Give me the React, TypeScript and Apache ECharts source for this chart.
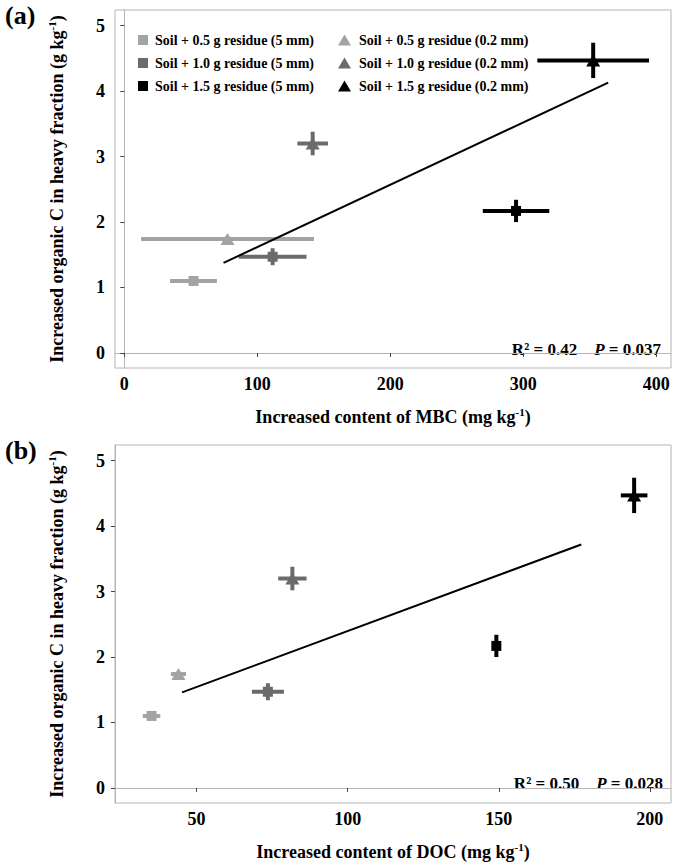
import React, { useEffect, useRef } from "react";
import * as echarts from "echarts";

const FONT = '"Liberation Serif", "Times New Roman", serif';

const groupNames = [
  "Soil + 0.5 g residue (5 mm)",
  "Soil + 0.5 g residue (0.2 mm)",
  "Soil + 1.0 g residue (5 mm)",
  "Soil + 1.0 g residue (0.2 mm)",
  "Soil + 1.5 g residue (5 mm)",
  "Soil + 1.5 g residue (0.2 mm)",
];
const groupSymbols = ["rect", "triangle", "rect", "triangle", "rect", "triangle"];
const groupColors = ["#a3a3a3", "#a3a3a3", "#6b6b6b", "#6b6b6b", "#000000", "#000000"];

// Increased organic C in heavy fraction (g/kg), shared by both panels
const heavyC = [1.1, 1.74, 1.47, 3.2, 2.17, 4.47];
const heavyCErr = [0.04, 0.04, 0.13, 0.18, 0.17, 0.27];

// Panel (a): MBC
const mbc = [52, 77.6, 111.5, 141.6, 294.5, 352.5];
const mbcErr = [17.6, 65, 25.5, 11.5, 25, 42];
const fitMBC = [
  [74.6, 1.376],
  [363.8, 4.13],
];

// Panel (b): DOC
const doc = [35.1, 44.0, 73.6, 81.7, 149.2, 194.8];
const docErr = [2.9, 2.5, 5.3, 4.7, 1.0, 4.4];
const fitDOC = [
  [45.2, 1.46],
  [177.3, 3.72],
];

const xTicksA = [0, 100, 200, 300, 400];
const xTicksB = [50, 100, 150, 200];
const yTicks = [0, 1, 2, 3, 4, 5];

export default function App() {
  const ref = useRef<HTMLDivElement>(null);
  useEffect(() => {
    document.body.style.margin = "0";
    const chart = echarts.init(ref.current!, null, { renderer: "svg" });

    const labelStyle = { fontFamily: FONT, fontWeight: "bold" as const, fontSize: 18, color: "#000" };
    const nameRich = {
      t: { fontFamily: FONT, fontWeight: "bold" as const, fontSize: 18, color: "#000", lineHeight: 22 },
      s: { fontFamily: FONT, fontWeight: "bold" as const, fontSize: 11, color: "#000", verticalAlign: "top" as const, lineHeight: 22 },
    };

    const xAxisBase = (idx: number, min: number, max: number, ticks: number[], title: string) => ({
      type: "value",
      gridIndex: idx,
      min,
      max,
      name: `{t|${title} (mg kg}{s|-1}{t|)}`,
      nameLocation: "middle",
      nameGap: 38,
      nameTextStyle: { rich: nameRich },
      axisLine: { show: true, lineStyle: { color: "#b5b5b5", width: 1 } },
      axisTick: { show: true, length: 4, lineStyle: { color: "#444" }, customValues: ticks },
      axisLabel: { ...labelStyle, margin: 7, customValues: ticks },
      splitLine: { show: false },
    });
    const yAxisBase = (idx: number) => ({
      type: "value",
      gridIndex: idx,
      min: -0.23,
      max: 5.24,
      name: "{t|Increased organic C in heavy fraction (g kg}{s|-1}{t|)}",
      nameLocation: "middle",
      nameGap: 47,
      nameRotate: 90,
      nameTextStyle: { rich: nameRich },
      axisLine: { show: true, lineStyle: { color: "#b5b5b5", width: 1 } },
      axisTick: { show: true, length: 4, lineStyle: { color: "#444" }, customValues: yTicks },
      axisLabel: { ...labelStyle, margin: 10, customValues: yTicks },
      splitLine: { show: false },
    });

    const errRender = (params: any, api: any) => {
      const x = api.value(0);
      const y = api.value(1);
      const xe = api.value(2);
      const ye = api.value(3);
      const c = groupColors[api.value(4)];
      const l = api.coord([x - xe, y]);
      const r = api.coord([x + xe, y]);
      const t = api.coord([x, y + ye]);
      const b = api.coord([x, y - ye]);
      return {
        type: "group",
        children: [
          { type: "line", shape: { x1: l[0], y1: l[1], x2: r[0], y2: r[1] }, style: { stroke: c, lineWidth: 4 } },
          { type: "line", shape: { x1: t[0], y1: t[1], x2: b[0], y2: b[1] }, style: { stroke: c, lineWidth: 4 } },
        ],
      };
    };

    const panelSeries = (idx: number, xs: number[], xErr: number[], fit: number[][]) => {
      const s: any[] = [];
      s.push({
        type: "custom",
        xAxisIndex: idx,
        yAxisIndex: idx,
        renderItem: errRender,
        silent: true,
        z: 1,
        encode: { x: 0, y: 1 },
        data: xs.map((x, i) => [x, heavyC[i], xErr[i], heavyCErr[i], i]),
      });
      groupNames.forEach((n, i) => {
        s.push({
          type: "scatter",
          name: n,
          xAxisIndex: idx,
          yAxisIndex: idx,
          symbol: groupSymbols[i],
          symbolSize: groupSymbols[i] === "rect" ? 10 : [14, 12],
          itemStyle: { color: groupColors[i], opacity: 1 },
          z: 3,
          data: [[xs[i], heavyC[i]]],
        });
      });
      s.push({
        type: "line",
        xAxisIndex: idx,
        yAxisIndex: idx,
        symbol: "none",
        silent: true,
        z: 4,
        lineStyle: { color: "#000", width: 2 },
        data: fit,
      });
      return s;
    };

    const legendText = { fontFamily: FONT, fontWeight: "bold" as const, fontSize: 14, color: "#000", lineHeight: 16 };

    const annRich = {
      b: { fontFamily: FONT, fontWeight: "bold" as const, fontSize: 17, fill: "#000" },
      i: { fontFamily: FONT, fontWeight: "bold" as const, fontStyle: "italic" as const, fontSize: 17, fill: "#000" },
    };

    chart.setOption({
      animation: false,
      backgroundColor: "#fff",
      grid: [
        { left: 115, top: 10, width: 556, height: 358, show: true, borderColor: "#b5b5b5", borderWidth: 1, backgroundColor: "transparent" },
        { left: 115, top: 445, width: 556, height: 358, show: true, borderColor: "#b5b5b5", borderWidth: 1, backgroundColor: "transparent" },
      ],
      xAxis: [
        xAxisBase(0, -7, 411, xTicksA, "Increased content of MBC"),
        xAxisBase(1, 23, 207, xTicksB, "Increased content of DOC"),
      ],
      yAxis: [yAxisBase(0), yAxisBase(1)],
      legend: [
        {
          orient: "vertical",
          left: 133,
          top: 27,
          itemWidth: 10,
          itemHeight: 10,
          itemGap: 7,
          selectedMode: false,
          textStyle: { ...legendText, padding: [0, 0, 0, 2] },
          data: [0, 2, 4].map((i) => ({ name: groupNames[i], icon: "rect" })),
        },
        {
          orient: "vertical",
          left: 333,
          top: 27,
          itemWidth: 13,
          itemHeight: 11,
          itemGap: 7,
          selectedMode: false,
          textStyle: { ...legendText, padding: [0, 0, 0, 3] },
          data: [1, 3, 5].map((i) => ({ name: groupNames[i], icon: "triangle" })),
        },
      ],
      graphic: [
        { type: "text", left: 5, top: 2, style: { text: "(a)", font: `bold 26px ${FONT}`, fill: "#000" } },
        { type: "text", left: 5, top: 437, style: { text: "(b)", font: `bold 26px ${FONT}`, fill: "#000" } },
        {
          type: "text",
          right: 14,
          top: 341,
          style: { text: "{b|R² = 0.42    }{i|P}{b| = 0.037}", rich: annRich, font: `bold 17px ${FONT}` },
        },
        {
          type: "text",
          right: 12,
          top: 775,
          style: { text: "{b|R² = 0.50    }{i|P}{b| = 0.028}", rich: annRich, font: `bold 17px ${FONT}` },
        },
      ],
      series: [
        ...panelSeries(0, mbc, mbcErr, fitMBC),
        ...panelSeries(1, doc, docErr, fitDOC),
      ],
    });
    return () => chart.dispose();
  }, []);
  return <div ref={ref} style={{ width: 675, height: 868 }} />;
}
